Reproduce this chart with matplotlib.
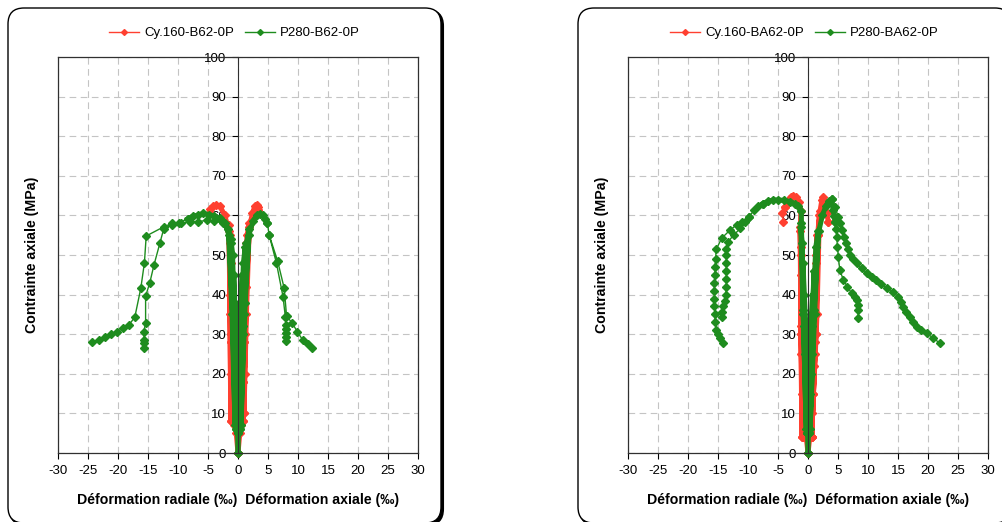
import numpy as np
import matplotlib
matplotlib.use("Agg")
import matplotlib.pyplot as plt
from matplotlib.patches import FancyBboxPatch
from matplotlib.transforms import IdentityTransform
from matplotlib.lines import Line2D

plt.rcParams['font.family'] = ['Liberation Sans', 'DejaVu Sans']
plt.rcParams['axes.unicode_minus'] = False

nan = np.nan

# ---- Panel gauche : B62 ----
b62_cy_ax_x = [0, 0.3, 0.55, 0.7, 0.65, 0.55, 0.75, 0.85, 0.9, 0.85, 0.75, 0.9, 1.0, 1.1, 1.0, 0.85, 1.0, 1.2, 1.4,
               1.1, 0.95, 1.05, 1.5, 1.9, 1.4, 1.0, 1.1, 1.4, 1.9, 2.4, 2.8, 3.1, 3.3, 3.3]
b62_cy_ax_y = [0, 5, 12, 20, 12, 7, 18, 28, 34, 18, 8, 22, 38, 45, 28, 8, 28, 48, 53,
               30, 10, 30, 55, 58, 35, 10, 20, 42, 57, 60.5, 62.3, 62.6, 62.2, 61.3]
b62_cy_rad_x = [0, -0.3, -0.6, -0.8, -0.7, -0.6, -0.85, -1.0, -1.05, -0.95, -0.85, -1.05, -1.15, -1.2, -1.15, -1.0,
                -1.15, -1.25, -1.3, -1.25, -1.15, -1.2, -1.35, -1.5, -1.35, -1.2, -1.25, -1.35, -1.5, -2.2, -3.0,
                -3.6, -4.2, -4.6, -4.7]
b62_cy_rad_y = [0, 5, 12, 20, 12, 7, 18, 28, 34, 18, 8, 22, 38, 45, 28, 8,
                28, 48, 53, 30, 8, 30, 55, 57.5, 35, 8, 20, 40, 56, 60, 62.3,
                62.6, 62.3, 61.5, 60.5]

b62_p_ax_x = [0, 0.05, 0.1, 0.2, 0.1, 0.05, 0.2, 0.3, 0.2, 0.1, 0.3, 0.45, 0.3, 0.15, 0.4, 0.7, 0.5, 0.25, 0.5,
              0.9, 1.2, 0.8, 0.4, 0.8, 1.4, 1.9, 1.2, 0.5, 1.0, 1.8, 2.5, 3.1, 3.7, 4.1, 4.5, 4.9, 5.2, 6.4, 7.5,
              7.9, 8.0, 8.0, 8.0, 8.0, 8.0, nan, 5.2, 6.6, 7.7, 8.1, 9.0, 9.9, 10.8, 11.6, 12.4]
b62_p_ax_y = [0, 5, 12, 22, 12, 6, 20, 30, 15, 6, 25, 38, 20, 6, 28, 45, 25, 6, 30,
              48, 52, 30, 6, 32, 53, 56.5, 38, 7, 35, 55, 58.5, 60, 60.4, 60.0, 59.2, 58.0, 55.0, 48.0, 39.5,
              34.3, 32.3, 31.2, 30.2, 29.2, 28.2, nan, 55.0, 48.5, 41.6, 34.5, 32.9, 30.6, 28.5, 27.6, 26.4]
b62_p_rad_x = [0, -0.05, -0.15, -0.25, -0.15, -0.1, -0.25, -0.35, -0.2, -0.15, -0.35, -0.5, -0.35, -0.2, -0.45,
               -0.7, -0.5, -0.3, -0.55, -0.9, -1.1, -0.7, -0.4, -0.7, -1.2, -1.6, -1.0, -0.5, -0.9, -1.5, -2.2,
               -3.0, -4.0, -4.8, -5.8, -6.6, -7.5, -8.4, -9.9, -11.0, -12.4, -15.3, -15.6, -16.2, -17.2, -18.2,
               -19.2, -20.2, -21.2, -22.2, -23.2, -24.4, nan,
               -2.5, -4.0, -5.2, -6.6, -8.0, -9.5, -11.0, -12.4, -13.0, -14.0, -14.7, -15.4, -15.4, -15.7, -15.6,
               -15.6, -15.6]
b62_p_rad_y = [0, 5, 12, 22, 12, 6, 20, 30, 15, 6, 25, 38, 20, 6, 28,
               45, 25, 6, 30, 50, 53, 30, 6, 30, 54, 56.5, 35, 7, 35, 55, 58,
               59.3, 59.8, 60.2, 60.5, 60.1, 59.8, 59.1, 58.2, 58.0, 57.1, 54.8, 48.0, 41.6, 34.3, 32.3,
               31.5, 30.6, 30.0, 29.4, 28.5, 28.1, nan,
               58.0, 58.6, 58.8, 58.4, 58.4, 58.0, 57.6, 56.5, 53.1, 47.5, 43.0, 39.6, 32.9, 30.6, 28.6,
               27.8, 26.5]

# ---- Panel droit : BA62 ----
ba62_cy_ax_x = [0, 0.3, 0.55, 0.7, 0.6, 0.45, 0.75, 0.95, 1.05, 0.9, 0.6, 1.0, 1.2, 1.3, 1.1, 0.6, 1.1, 1.35, 1.5,
                1.3, 0.6, 1.2, 1.6, 1.9, 1.5, 0.6, 1.3, 1.7, 2.0, 2.3, 2.55, 2.8, 3.1, 3.4]
ba62_cy_ax_y = [0, 4, 12, 20, 10, 4, 15, 28, 35, 15, 4, 22, 42, 48, 25, 4, 28, 50, 55,
                30, 4, 30, 55, 60, 35, 4, 30, 55, 61, 63.8, 64.7, 63.5, 60.5, 58.4]
ba62_cy_rad_x = [0, -0.3, -0.6, -0.8, -0.7, -0.55, -0.85, -1.0, -1.05, -0.95, -0.8, -1.0, -1.15, -1.2, -1.1, -0.95,
                 -1.1, -1.25, -1.3, -1.2, -1.0, -1.15, -1.3, -1.2, -1.5, -2.0, -2.45, -2.9, -3.3, -3.8, -4.3, -4.1]
ba62_cy_rad_y = [0, 4, 12, 22, 10, 4, 18, 30, 36, 15, 4, 25, 45, 50, 25, 4,
                 30, 52, 57, 30, 4, 32, 56, 61, 63.5, 64.6, 64.9, 64.6, 63.5, 62, 60.5, 58.4]

ba62_p_ax_x = [0, 0.05, 0.15, 0.3, 0.15, 0.05, 0.3, 0.5, 0.3, 0.1, 0.45, 0.75, 0.45, 0.15, 0.55, 1.0, 0.6, 0.2,
               0.7, 1.3, 1.7, 1.1, 0.35, 1.0, 1.8, 2.4, 3.0, 3.5, 3.95, 4.2, 4.35, 4.5, 4.65, 4.8, 4.9, 5.05, 5.3,
               5.9, 6.55, 7.3, 7.8, 8.2, 8.3, 8.3, 8.4, nan,
               3.95, 4.5, 5.05, 5.3, 5.6, 6.0, 6.3, 6.6, 7.0, 7.5, 8.1, 9.0, 9.8, 10.6, 11.4, 12.2, 13.1, 14.1,
               15.05, 15.5, 15.9, 16.4, 17.0, 17.5, 18.1, 18.9, 19.8, 20.9, 22.0]
ba62_p_ax_y = [0, 5, 12, 22, 12, 5, 20, 32, 15, 5, 25, 40, 20, 5, 28, 46, 25, 5,
               32, 52, 56, 35, 6, 36, 56, 60, 62.5, 63.6, 64.1, 61.4, 59.9, 58.4, 56.5, 54.6, 52.1, 49.6, 46.2,
               43.7, 42.0, 40.3, 39.5, 38.6, 37.3, 36.1, 34.0, nan,
               64.1, 62.0, 59.7, 58.0, 56.3, 54.6, 53.0, 51.5, 50.0, 49.0, 47.9, 46.6, 45.4, 44.5, 43.7, 42.7, 41.6,
               40.6, 39.5, 38.2, 36.9, 35.6, 34.4, 33.1, 31.9, 31.0, 30.2, 29.0, 27.7]
ba62_p_rad_x = [0, -0.05, -0.15, -0.3, -0.15, -0.05, -0.25, -0.45, -0.25, -0.1, -0.35, -0.6, -0.35, -0.15, -0.45,
                -0.8, -0.5, -0.2, -0.6, -1.0, -1.2, -0.8, -0.3, -0.8, -1.1, -1.1, -1.6, -2.2, -3.0, -4.0, -5.0,
                -5.8, -6.6, -7.5, -8.3, -9.0, -9.9, -11.0, -11.9, -13.0, -14.4, -15.3, -15.4, -15.5, -15.5, -15.6,
                -15.6, -15.6, -15.6, -15.5, -15.5, -15.3, -15.0, -14.7, -14.2, nan,
                -9.9, -10.5, -11.3, -12.4, -13.3, -13.6, -13.6, -13.6, -13.6, -13.6, -13.6, -13.7, -13.9, -14.1,
                -14.3, -14.4]
ba62_p_rad_y = [0, 5, 12, 22, 12, 5, 20, 32, 15, 5, 25, 40, 20, 5, 28,
                48, 25, 5, 32, 53, 57, 35, 6, 36, 58, 61, 62.3, 63, 63.5, 63.8, 63.9,
                63.9, 63.6, 63.0, 62.3, 61.3, 59.5, 58.3, 57.6, 56.3, 54.2, 51.4, 49, 47, 45, 43,
                41, 39, 37, 35, 33, 31, 30, 29, 27.7, nan,
                59.5, 58.3, 56.7, 55.0, 53.4, 51.6, 50, 48, 46, 44, 42, 40, 38.5, 37, 35.5, 34.4]

x_ticks = list(range(-30, 31, 5))
y_ticks = list(range(0, 101, 10))

RED = '#FF4030'
GREEN = '#1E8C1E'

W, H = 1002, 522
fig = plt.figure(figsize=(W / 100, H / 100), dpi=100)


def cadre(x0):
    # boite arrondie façon Excel avec ombre
    ombre = FancyBboxPatch((x0 + 2, -3), 433, 515, boxstyle='round,pad=0,rounding_size=16',
                           transform=IdentityTransform(), fc='black', ec='black', lw=1.5, zorder=-2)
    boite = FancyBboxPatch((x0, -1), 433, 515, boxstyle='round,pad=0,rounding_size=16',
                           transform=IdentityTransform(), fc='white', ec='black', lw=1.0, zorder=-1)
    fig.patches.extend([ombre, boite])


def serie(ax, x, y, couleur):
    # phase cyclique (jusqu'au pic) : nuage de points dense -> trait épais
    x = np.asarray(x, float)
    y = np.asarray(y, float)
    n = min(int(np.nanargmax(y)) + 4, len(x))
    ax.plot(x[:n], y[:n], color=couleur, lw=3.6, marker='D', ms=4.2, solid_joinstyle='round',
            clip_on=False)
    ax.plot(x[n - 1:], y[n - 1:], color=couleur, lw=1.0, marker='D', ms=4.2, clip_on=False)


def panneau(left_px, ax_x, ax_y, rad_x, rad_y, pax_x, pax_y, prad_x, prad_y, lab_cy, lab_p):
    ax = fig.add_axes([left_px / W, (H - 453) / H, 360 / W, 396 / H])
    ax.set_xlim(-30, 30)
    ax.set_ylim(0, 100)
    ax.set_xticks(x_ticks)
    ax.set_yticks(y_ticks)
    ax.set_xticklabels([str(t) for t in x_ticks])
    ax.set_yticklabels([str(t) for t in y_ticks])
    ax.grid(True, linestyle=(0, (6, 4)), color='#c4c4c4', lw=0.8)
    ax.set_axisbelow(True)
    ax.spines['left'].set_position(('data', 0))
    ax.spines['left'].set_color('#303030')
    for s in ['top', 'right', 'bottom']:
        ax.spines[s].set_color('#303030')
        ax.spines[s].set_linewidth(0.9)
    ax.add_line(Line2D([0, 0], [0, 1], transform=ax.transAxes, color='#303030', lw=0.9, clip_on=False))
    ax.tick_params(axis='both', direction='out', length=4, width=0.8, labelsize=9.5, colors='black')
    ax.tick_params(axis='x', pad=5)
    ax.tick_params(axis='y', pad=4.5)

    serie(ax, ax_x, ax_y, RED)
    serie(ax, rad_x, rad_y, RED)
    serie(ax, pax_x, pax_y, GREEN)
    serie(ax, prad_x, prad_y, GREEN)

    poignees = [Line2D([], [], color=RED, lw=1.0, marker='D', ms=3),
                Line2D([], [], color=GREEN, lw=1.0, marker='D', ms=3)]
    ax.legend(poignees, [lab_cy, lab_p], loc='center', bbox_to_anchor=(0.49, 1.06), ncol=2,
              frameon=False, fontsize=9.5, handlelength=2.3, columnspacing=0.8, handletextpad=0.4)
    ax.set_ylabel('Contrainte axiale (MPa)', fontsize=10.2, fontweight='bold')
    ax.yaxis.set_label_coords(-0.053, 0.5)
    ax.set_xlabel('Déformation radiale (‰)  Déformation axiale (‰)', fontsize=10.2, fontweight='bold')
    ax.xaxis.set_label_coords(0.5, -0.1)
    return ax


cadre(8)
cadre(578)
panneau(58, b62_cy_ax_x, b62_cy_ax_y, b62_cy_rad_x, b62_cy_rad_y,
        b62_p_ax_x, b62_p_ax_y, b62_p_rad_x, b62_p_rad_y, 'Cy.160-B62-0P', 'P280-B62-0P')
panneau(628, ba62_cy_ax_x, ba62_cy_ax_y, ba62_cy_rad_x, ba62_cy_rad_y,
        ba62_p_ax_x, ba62_p_ax_y, ba62_p_rad_x, ba62_p_rad_y, 'Cy.160-BA62-0P', 'P280-BA62-0P')

fig.savefig('out.png', dpi=100)
